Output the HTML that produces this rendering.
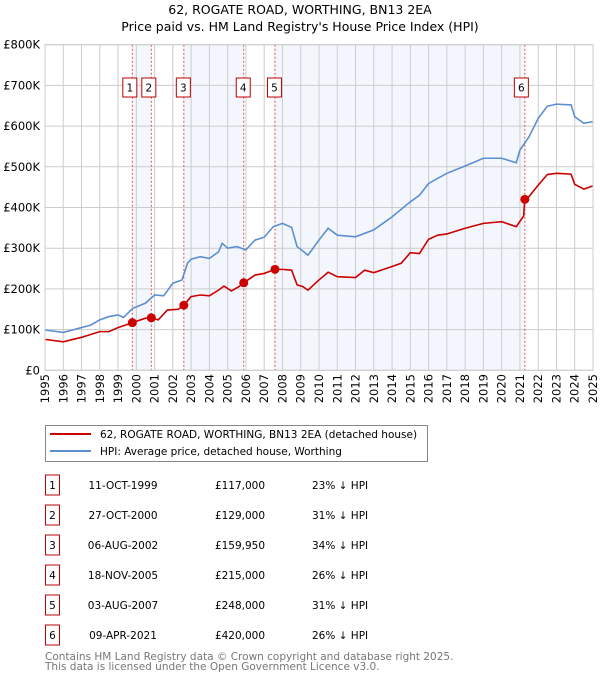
<!DOCTYPE html>
<html><head><meta charset="utf-8">
<style>
body{margin:0;background:#fff;font-family:"Liberation Sans","DejaVu Sans",sans-serif;}
svg text{font-family:"DejaVu Sans","Liberation Sans",sans-serif;}
</style></head>
<body>
<svg id="chart" width="600" height="680" viewBox="0 0 600 680">
<text x="300" y="14" text-anchor="middle" font-size="12.5" fill="#000">62, ROGATE ROAD, WORTHING, BN13 2EA</text>
<text x="300" y="31" text-anchor="middle" font-size="12.5" fill="#000">Price paid vs. HM Land Registry's House Price Index (HPI)</text>
<g id="bands"></g><g id="grid"></g><g id="vlines"></g><g id="lines"></g><g id="marks"></g><g id="axes"></g>
<g>
<rect x="45.5" y="425.5" width="382" height="36" fill="#fff" stroke="#888"/>
<line x1="50" y1="434" x2="91" y2="434" stroke="#cc0000" stroke-width="2"/>
<text x="100" y="438" font-size="10.5">62, ROGATE ROAD, WORTHING, BN13 2EA (detached house)</text>
<line x1="50" y1="451" x2="91" y2="451" stroke="#5b8fd0" stroke-width="2"/>
<text x="100" y="455" font-size="10.5">HPI: Average price, detached house, Worthing</text>
</g>
<g id="table"></g>
<text x="45" y="660" font-size="10.5" fill="#777">Contains HM Land Registry data © Crown copyright and database right 2025.</text>
<text x="45" y="670" font-size="10.5" fill="#777">This data is licensed under the Open Government Licence v3.0.</text>
</svg>
<script>
const hpiYears=[1995,1996,1996.5,1997,1997.5,1998,1998.5,1999,1999.3,1999.8,2000.5,2001,2001.5,2002,2002.5,2002.8,2003,2003.5,2004,2004.5,2004.7,2005,2005.5,2006,2006.5,2007,2007.5,2008,2008.5,2008.8,2009.4,2010,2010.5,2011,2012,2013,2014,2015,2015.5,2016,2017,2018,2019,2020,2020.8,2021,2021.5,2022,2022.5,2023,2023.8,2024,2024.5,2025];
const hpiValues=[99,93,99,105,111,124,132,136,130,152,165,185,183,214,222,263,273,279,275,291,312,300,304,296,320,327,353,361,351,304,283,320,349,332,328,345,377,414,430,459,484,502,521,521,510,541,574,619,649,654,652,623,607,611];
const ppYears=[1995,1996,1997,1998,1998.5,1999,1999.78,2000.5,2000.82,2001.2,2001.7,2002.3,2002.6,2003,2003.5,2004,2004.5,2004.8,2005.2,2005.6,2005.88,2006.5,2007,2007.59,2008,2008.5,2008.8,2009.1,2009.4,2010,2010.5,2011,2012,2012.5,2013,2014,2014.5,2015,2015.5,2016,2016.5,2017,2018,2019,2020,2020.8,2021.2,2021.27,2021.5,2022,2022.5,2023,2023.8,2024,2024.5,2025];
const ppValues=[76,70,81,95,95,105,117,128,129,124,148,150,160,181,185,183,197,207,195,205,215,234,238,248,248,246,210,206,197,222,241,230,228,246,240,255,263,289,287,322,332,335,349,361,365,353,379,420,427,455,481,484,482,457,445,453];
const saleLabels=["1","2","3","4","5","6"];
const saleYears=[1999.78,2000.82,2002.6,2005.88,2007.59,2021.27];
const saleValues=[117,129,159.95,215,248,420];
const saleDates=["11-OCT-1999","27-OCT-2000","06-AUG-2002","18-NOV-2005","03-AUG-2007","09-APR-2021"];
const salePrices=["£117,000","£129,000","£159,950","£215,000","£248,000","£420,000"];
const salePcts=["23% ↓ HPI","31% ↓ HPI","34% ↓ HPI","26% ↓ HPI","31% ↓ HPI","26% ↓ HPI"];
const yTicks=[0,100,200,300,400,500,600,700,800];
const yTickLabels=["£0","£100K","£200K","£300K","£400K","£500K","£600K","£700K","£800K"];
const xTicks=[1995,1996,1997,1998,1999,2000,2001,2002,2003,2004,2005,2006,2007,2008,2009,2010,2011,2012,2013,2014,2015,2016,2017,2018,2019,2020,2021,2022,2023,2024,2025];

const X0=45,X1=593,Y0=370.3,Y1=44.7;
const xs=y=>X0+(y-1995)/30*(X1-X0);
const ys=v=>Y0-v/800*(Y0-Y1);
const NS="http://www.w3.org/2000/svg";
function mk(parent,tag,attrs){const e=document.createElementNS(NS,tag);for(const k in attrs)e.setAttribute(k,attrs[k]);document.getElementById(parent).appendChild(e);return e;}

// bands between sales
for(let i=0;i<saleYears.length-1;i+=2){
  const r=mk('bands','rect',{x:xs(saleYears[i]),y:Y1,width:xs(saleYears[i+1])-xs(saleYears[i]),height:Y0-Y1,fill:'#eef3fc',opacity:0.7});
  
  
}
xTicks.forEach(t=>{const l=mk('grid','line',{x1:xs(t),x2:xs(t),y1:Y1,y2:Y0,stroke:'#ccc','stroke-width':1});
  
  });
yTicks.forEach((t,i)=>{const l=mk('grid','line',{x1:X0,x2:X1,y1:ys(t),y2:ys(t),stroke:'#ccc','stroke-width':1});
  
  
  const tx=mk('axes','text',{x:40,y:ys(t)+4,'text-anchor':'end','font-size':11.5});
  tx.textContent=yTickLabels[i];
  
  });
xTicks.forEach(t=>{const tx=mk('axes','text',{x:0,y:0,'text-anchor':'end','font-size':11.5,transform:`translate(${xs(t)+4},374) rotate(-90)`});
  tx.textContent=t;
  
  });
const fr=mk('axes','rect',{x:X0,y:Y1,width:X1-X0,height:Y0-Y1,fill:'none',stroke:'#ccc'});



saleYears.forEach((s,i)=>{
  const l=mk('vlines','line',{x1:xs(s),x2:xs(s),y1:Y1,y2:Y0,stroke:'#e05050','stroke-width':1,'stroke-dasharray':'2,2'});
  
  
  const bx=xs(s)-(i===5?3:0)-7;
  const r=mk('marks','rect',{x:bx-0.5-(i<2?2:0),y:78,width:14,height:19,fill:'#fff',stroke:'#c00000'});
  
  
  const t=mk('marks','text',{x:bx+6.5-(i<2?2:0),y:91.5,'text-anchor':'middle','font-size':10.5});
  t.textContent=saleLabels[i];
  
  
  const c=mk('marks','circle',{cx:xs(s),cy:ys(saleValues[i]),r:4.5,fill:'#cc0000'});
  
  
});
const hp=mk('lines','polyline',{points:hpiYears.map((y,i)=>xs(y)+','+ys(hpiValues[i])).join(' '),fill:'none',stroke:'#5b8fd0','stroke-width':1.6});


const pp=mk('lines','polyline',{points:ppYears.map((y,i)=>xs(y)+','+ys(ppValues[i])).join(' '),fill:'none',stroke:'#cc0000','stroke-width':1.6});



saleLabels.forEach((lab,i)=>{
  const y=483+i*30;
  const r=mk('table','rect',{x:45.5,y:y-8,width:14,height:20,fill:'#fff',stroke:'#c00000'});
  
  
  const cells=[[52.5,lab,'middle','table-sale-number'],[123,saleDates[i],'middle','table-sale-date'],[240,salePrices[i],'middle','table-sale-price'],[312,salePcts[i],'start','table-sale-hpi-diff']];
  cells.forEach(c=>{const t=mk('table','text',{x:c[0],y:y+6,'text-anchor':c[2],'font-size':10.5});
    t.textContent=c[1];
    
    });
});
</script>
</body></html>
